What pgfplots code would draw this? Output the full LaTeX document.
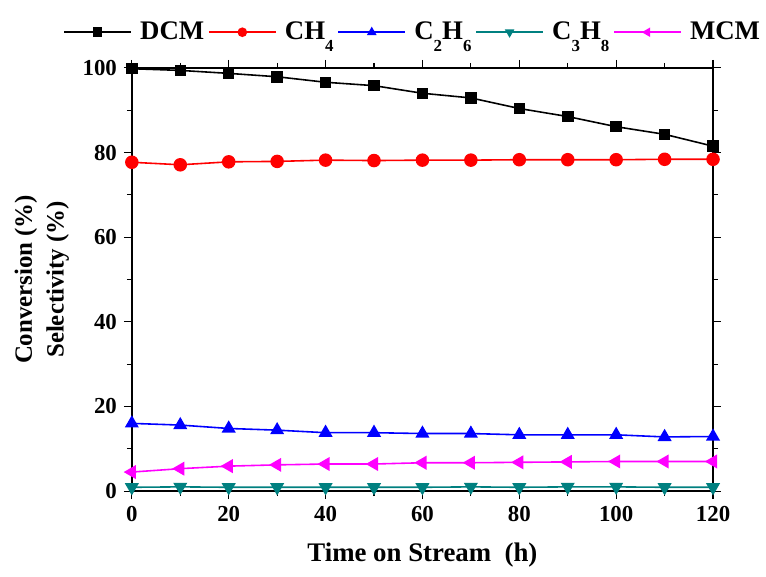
\documentclass[border=0pt]{standalone}
\usepackage{fontspec}
\setmainfont{Liberation Serif}
\usepackage{pgfplots}
\pgfplotsset{compat=1.18}
\definecolor{cteal}{RGB}{0,128,128}
\definecolor{cmag}{RGB}{255,0,255}
\definecolor{cblue}{RGB}{0,0,255}
\definecolor{cred}{RGB}{255,0,0}
\newcommand\lgf{\bfseries\fontsize{13.5}{15}\selectfont}
\newcommand\sub[1]{\raisebox{-6pt}{\fontsize{8.5}{9}\selectfont #1}}

\begin{document}
\begin{tikzpicture}
\begin{axis}[
    scale only axis,
    width=292.5pt, height=213pt,
    xmin=0, xmax=120, ymin=0, ymax=100,
    xtick={0,20,...,120}, ytick={0,20,...,100},
    minor x tick num=1, minor y tick num=1,
    tick align=outside,
    major tick length=4pt, minor tick length=2.5pt,
    every tick/.style={line width=0.6pt},
    axis line style={line width=0.7pt},
    /pgf/number format/assume math mode=true,
    ticklabel style={font=\bfseries\fontsize{11.5}{12}\selectfont},
    xlabel={Time on Stream\ \ (h)},
    ylabel={Conversion (\%)\\[3pt]Selectivity (\%)},
    ylabel style={align=center, font=\bfseries\fontsize{12.5}{13}\selectfont},
    xlabel style={font=\bfseries\fontsize{13.5}{14}\selectfont, yshift=-4pt},
    legend columns=5,
    legend style={draw=none, fill=none, at={(0.485,1.04)}, anchor=south,
        column sep=0pt, inner xsep=0pt},
    legend image code/.code={
        \draw[line width=0.8pt, mark repeat=2,mark phase=2, mark size=2pt] plot coordinates {(0cm,0cm)(0.59cm,0cm)(1.18cm,0cm)};},
    every axis plot/.append style={line width=0.8pt},
]
\addplot[black, mark=square*, mark size=2.5pt] coordinates {
(0,99.8) (10,99.4) (20,98.7) (30,97.9) (40,96.6) (50,95.8) (60,94.0)
(70,92.9) (80,90.4) (90,88.5) (100,86.1) (110,84.3) (120,81.5)};
\addlegendentry{\lgf\,DCM}
\addplot[cred, mark=*, mark size=3pt] coordinates {
(0,77.7) (10,77.1) (20,77.8) (30,77.9) (40,78.2) (50,78.1) (60,78.2)
(70,78.2) (80,78.3) (90,78.3) (100,78.3) (110,78.4) (120,78.4)};
\addlegendentry{\lgf\,CH\sub{4}}
\addplot[cblue, mark=triangle*, mark size=3.3pt] coordinates {
(0,16.0) (10,15.6) (20,14.8) (30,14.4) (40,13.8) (50,13.8) (60,13.6)
(70,13.6) (80,13.3) (90,13.3) (100,13.3) (110,12.8) (120,12.9)};
\addlegendentry{\lgf\,C\sub{2}H\sub{6}}
\addplot[cteal, mark=triangle*, mark size=3.3pt, mark options={rotate=180}] coordinates {
(0,0.9) (10,1.0) (20,0.9) (30,0.9) (40,0.9) (50,0.9) (60,0.9)
(70,1.0) (80,0.9) (90,1.0) (100,1.0) (110,0.9) (120,0.9)};
\addlegendentry{\lgf\,C\sub{3}H\sub{8}}
\addplot[cmag, mark=triangle*, mark size=3.3pt, mark options={rotate=90}] coordinates {
(0,4.5) (10,5.3) (20,5.9) (30,6.2) (40,6.4) (50,6.4) (60,6.7)
(70,6.7) (80,6.8) (90,6.9) (100,7.0) (110,7.0) (120,7.0)};
\addlegendentry{\lgf\,MCM}
\end{axis}
\path (current bounding box.north west) ++(-4pt,7pt) (current bounding box.south east) ++(1pt,-1pt);
\end{tikzpicture}
\end{document}
